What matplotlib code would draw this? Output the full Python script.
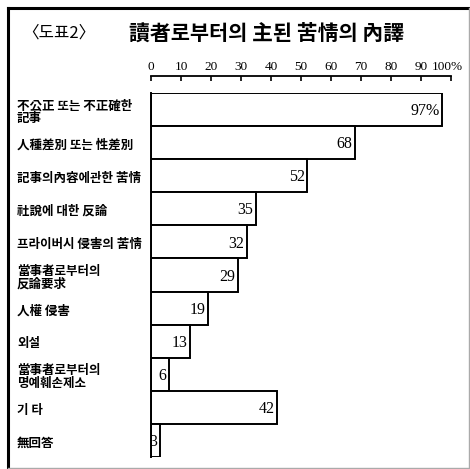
import matplotlib.pyplot as plt
import matplotlib.transforms as mtransforms

# datos
categorias = [
    "不公正 또는 不正確한\n記事",
    "人種差別 또는 性差別",
    "記事의內容에관한 苦情",
    "社說에 대한 反論",
    "프라이버시 侵害의 苦情",
    "當事者로부터의\n反論要求",
    "人權 侵害",
    "외설",
    "當事者로부터의\n명예훼손제소",
    "기 타",
    "無回答",
]
valores = [97, 68, 52, 35, 32, 29, 19, 13, 6, 42, 3]
etiquetas_valor = ["97%", "68", "52", "35", "32", "29", "19", "13", "6", "42", "3"]
ticks_x = [0, 10, 20, 30, 40, 50, 60, 70, 80, 90, 100]
ticks_x_labels = ["0", "10", "20", "30", "40", "50", "60", "70", "80", "90", "100%"]

W, H = 470, 469
fig = plt.figure(figsize=(W / 100, H / 100), dpi=100)
fig.patch.set_facecolor("white")
cjk = ["Noto Sans CJK KR", "DejaVu Sans"]

# marco exterior (izquierda/arriba negro, derecha/abajo gris)
fig.add_artist(plt.Line2D([8 / W, 8 / W], [1 - 8 / H, 0.002], transform=fig.transFigure, color="black", lw=2.2))
fig.add_artist(plt.Line2D([8 / W, 1], [1 - 8 / H, 1 - 8 / H], transform=fig.transFigure, color="black", lw=2.2))
fig.add_artist(plt.Line2D([0.998, 0.998], [1 - 8 / H, 0.002], transform=fig.transFigure, color="#aaaaaa", lw=1))
fig.add_artist(plt.Line2D([8 / W, 0.998], [0.003, 0.003], transform=fig.transFigure, color="#aaaaaa", lw=1))

# titulos
fig.text(22 / W, 1 - 33 / H, "〈도표2〉", fontsize=12, family=cjk, ha="left", va="center")
fig.text(129 / W, 1 - 33 / H, "讀者로부터의 主된 苦情의 內譯", fontsize=15, fontweight="bold",
         family=cjk, ha="left", va="center")

# ejes: 0 -> x=151px, 100 -> x=451px ; barras de y=93 a y=457
x0, x1 = 151, 451
y_top, y_bot = 93, 457
ax = fig.add_axes([x0 / W, 1 - y_bot / H, (x1 - x0) / W, (y_bot - y_top) / H])
n = len(valores)
pos = list(range(n))
ax.barh(pos, valores, height=1.0, color="white", edgecolor="black", linewidth=1.4, zorder=2)
ax.set_xlim(0, 100)
ax.set_ylim(n - 0.5, -0.5)

for p, v, t in zip(pos, valores, etiquetas_valor):
    ax.text(v - 0.8, p + 0.05, t, ha="right", va="center", fontsize=11.5, family="Liberation Serif")

# eje superior desplazado
for s in ["right", "bottom"]:
    ax.spines[s].set_visible(False)
ax.spines["top"].set_position(("outward", 12.5))
ax.spines["top"].set_linewidth(1.3)
ax.spines["left"].set_linewidth(1.4)
ax.xaxis.tick_top()
ax.set_xticks(ticks_x)
ax.set_xticklabels(ticks_x_labels, family="Liberation Serif", fontsize=9.5)
ax.tick_params(axis="x", direction="in", length=3.5, width=1.2, pad=2)
ax.set_yticks([])
# "100%" algo desplazado a la izquierda como en el original
last = ax.get_xticklabels()[-1]
last.set_transform(last.get_transform() + mtransforms.ScaledTranslation(-4 / 100, 0, fig.dpi_scale_trans))

# etiquetas de categoria
trans = mtransforms.blended_transform_factory(fig.transFigure, ax.transData)
for p, c in zip(pos, categorias):
    ax.text(17 / W, p + 0.08, c, transform=trans, ha="left", va="center", fontsize=9,
            fontweight="bold", family=cjk, linespacing=1.0)

fig.savefig("out.png", dpi=100, facecolor="white")
